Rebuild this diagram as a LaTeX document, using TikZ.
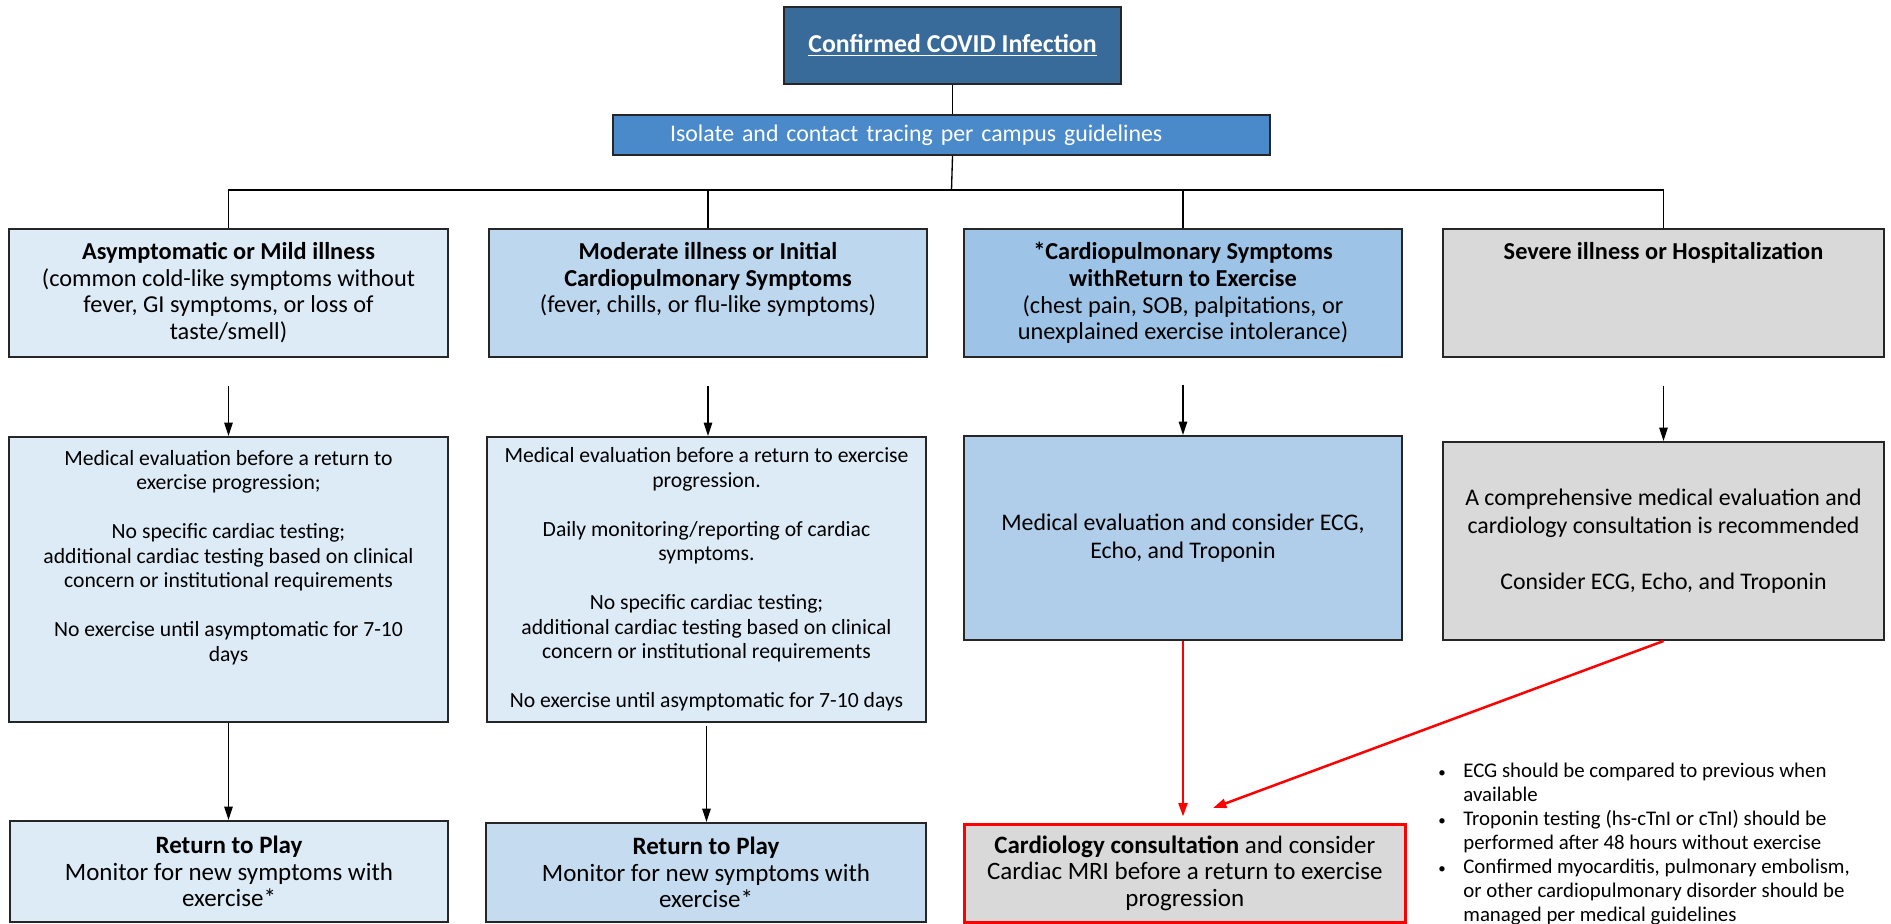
\documentclass[tikz,border=0pt]{standalone}
\usepackage{fontspec}
\setmainfont{Carlito}
\usetikzlibrary{arrows.meta}

\definecolor{covidblue}{RGB}{56,106,154}
\definecolor{isoblue}{RGB}{74,138,203}
\definecolor{mildblue}{RGB}{221,235,247}
\definecolor{modblue}{RGB}{189,215,238}
\definecolor{cardblue}{RGB}{157,195,230}
\definecolor{evalblue}{RGB}{176,206,234}
\definecolor{playblue}{RGB}{197,220,240}
\definecolor{severegray}{RGB}{217,217,217}

\newdimen\unitpx \unitpx=0.6pt
\newcommand{\boxtext}[4]{\begin{minipage}[c][\dimexpr#2\unitpx-16pt\relax][#3]{#1\unitpx}\centering #4\end{minipage}}
\newcommand{\rowfont}{\fontsize{14.6}{16}\selectfont}
\newcommand{\evalfont}{\fontsize{13}{14.7}\selectfont}
\newcommand{\bigfont}{\fontsize{14.3}{16.8}\selectfont}
\newcommand{\playfont}{\fontsize{15}{16}\selectfont}

\tikzstyle{stagebox} = [draw=black!85, line width=1.2pt, rectangle,
    inner xsep=0pt, inner ysep=8pt, anchor=north west]
\tikzstyle{flow} = [draw=black, line width=0.9pt, -{Triangle[length=8pt,width=5pt]}]
\tikzstyle{redflow} = [draw=red, line width=1pt, -{Triangle[length=8pt,width=5.5pt]}]

\begin{document}
\begin{tikzpicture}[x=\unitpx, y=-\unitpx]
\path[use as bounding box, fill=white] (0,0) rectangle (1891,923);

\node[stagebox, fill=covidblue, text=white, font=\fontsize{15.5}{18}\selectfont\bfseries] (conf) at (783,6)
    {\boxtext{337}{77}{c}{\underline{Confirmed COVID Infection}}};
\node[stagebox, fill=isoblue, text=white, inner ysep=0pt, minimum height=40\unitpx,
    text width=657\unitpx, align=left, font=\fontsize{14.3}{16}\selectfont] (iso) at (612,114)
    {\hspace*{57\unitpx}Isolate and contact tracing per campus guidelines};

\node[stagebox, fill=mildblue, font=\rowfont] (sym1) at (8,228) {\boxtext{439}{128}{t}{%
    \textbf{Asymptomatic or Mild illness}\\(common cold-like symptoms without\\
    fever, GI symptoms, or loss of\\taste/smell)}};
\node[stagebox, fill=modblue, font=\rowfont] (sym2) at (488,228) {\boxtext{438}{128}{t}{%
    \textbf{Moderate illness or Initial}\\\textbf{Cardiopulmonary Symptoms}\\
    (fever, chills, or flu-like symptoms)}};
\node[stagebox, fill=cardblue, font=\rowfont] (sym3) at (963,228) {\boxtext{438}{128}{t}{%
    \textbf{*Cardiopulmonary Symptoms}\\\textbf{withReturn to Exercise}\\
    (chest pain, SOB, palpitations, or\\unexplained exercise intolerance)}};
\node[stagebox, fill=severegray, font=\rowfont] (sym4) at (1442,228) {\boxtext{441}{128}{t}{%
    \textbf{Severe illness or Hospitalization}}};

\node[stagebox, fill=mildblue, font=\evalfont] (eval1) at (8,436) {\boxtext{439}{285}{t}{%
    Medical evaluation before a return to\\exercise progression;\\[\baselineskip]
    No specific cardiac testing;\\additional cardiac testing based on clinical\\
    concern or institutional requirements\\[\baselineskip]
    No exercise until asymptomatic for 7-10\\days}};
\node[stagebox, fill=mildblue, font=\evalfont] (eval2) at (486,436) {\boxtext{439}{285}{c}{%
    Medical evaluation before a return to exercise\\progression.\\[\baselineskip]
    Daily monitoring/reporting of cardiac\\symptoms.\\[\baselineskip]
    No specific cardiac testing;\\additional cardiac testing based on clinical\\
    concern or institutional requirements\\[\baselineskip]
    No exercise until asymptomatic for 7-10 days}};
\node[stagebox, fill=evalblue, font=\bigfont] (eval3) at (963,435) {\boxtext{438}{204}{c}{%
    Medical evaluation and consider ECG,\\Echo, and Troponin}};
\node[stagebox, fill=severegray, font=\bigfont] (eval4) at (1442,441) {\boxtext{441}{198}{c}{%
    A comprehensive medical evaluation and\\cardiology consultation is recommended\\[\baselineskip]
    Consider ECG, Echo, and Troponin}};

\node[stagebox, fill=mildblue, font=\playfont] (play1) at (9,820) {\boxtext{438}{101}{c}{%
    \textbf{Return to Play}\\Monitor for new symptoms with\\exercise*}};
\node[stagebox, fill=playblue, font=\playfont] (play2) at (485,822) {\boxtext{440}{99}{c}{%
    \textbf{Return to Play}\\Monitor for new symptoms with\\exercise*}};
\node[stagebox, fill=severegray, draw=red, line width=1.6pt, font=\playfont] (cardio) at (963,823) {\boxtext{441}{98}{c}{%
    \textbf{Cardiology consultation} and consider\\Cardiac MRI before a return to exercise\\progression}};

\node[anchor=north west, inner sep=0pt, font=\fontsize{12.5}{14.4}\selectfont] (notes) at (1438,760) {%
    \begin{tabular}{@{}p{15pt}@{}l@{}}
    {\small\textbullet} & ECG should be compared to previous when\\
     & available\\
    {\small\textbullet} & Troponin testing (hs-cTnI or cTnI) should be\\
     & performed after 48 hours without exercise\\
    {\small\textbullet} & Confirmed myocarditis, pulmonary embolism,\\
     & or other cardiopulmonary disorder should be\\
     & managed per medical guidelines
    \end{tabular}};

\coordinate (bus) at (951.5,190);
\draw[line width=0.8pt] (conf.south) -- (conf.south |- iso.north);
\draw[line width=0.8pt] (conf.south |- iso.south) -- (bus);
\draw[line width=0.8pt] (sym1.north) |- (bus) -| (sym4.north);
\draw[line width=0.8pt] (sym2.north) -- (sym2.north |- bus);
\draw[line width=0.8pt] (sym3.north) -- (sym3.north |- bus);

\draw[flow, shorten <=17pt] (sym1.south) -- (sym1.south |- eval1.north);
\draw[flow, shorten <=17pt] (sym2.south) -- (sym2.south |- eval2.north);
\draw[flow, shorten <=16pt] (sym3.south) -- (sym3.south |- eval3.north);
\draw[flow, shorten <=17pt] (sym4.south) -- (sym4.south |- eval4.north);

\draw[flow] (eval1.south) -- (eval1.south |- play1.north);
\draw[flow, shorten <=2pt] (eval2.south) -- (eval2.south |- play2.north);

\coordinate (cardin) at (1213,808);
\draw[redflow, shorten >=4pt] (eval3.south) -- (eval3.south |- cardio.north);
\draw[redflow, line width=1.5pt] (eval4.south) -- (cardin);
\end{tikzpicture}
\end{document}
